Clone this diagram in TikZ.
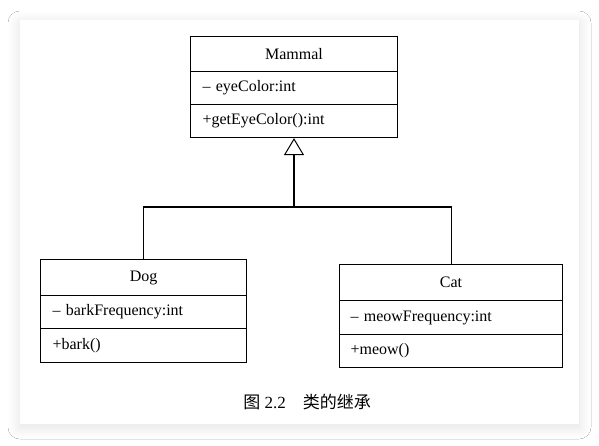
\documentclass[tikz,border=0pt]{standalone}
\usepackage{fontspec}
\setmainfont{Liberation Serif}
\newfontfamily\cjk{Noto Sans CJK SC}
\usetikzlibrary{arrows.meta,shadows.blur}
\begin{document}
\begin{tikzpicture}[x=1pt,y=-1pt,
  umltext/.style={font=\fontsize{16}{19}\selectfont},
  comp/.style={draw, line width=1.1pt, anchor=north west, inner xsep=#1, inner ysep=0pt, umltext},
  comp/.default=12pt,
  link/.style={line width=1.1pt},
  inherit/.style={link, -{Triangle[open, length=17pt, width=20pt, line width=1pt]}}
]
\useasboundingbox (0,0) rectangle (599,445);
\fill[white] (0,0) rectangle (599,445);
\fill[white, blur shadow={shadow blur steps=14, shadow xshift=0pt, shadow yshift=-3pt, shadow blur radius=12pt, shadow opacity=12}] (20,20) rectangle (579,424);

% Mammal
\node[comp, minimum height=35pt, text width=183pt, align=center] (mammaltitle) at (190,36) {Mammal};
\node[comp, minimum height=33pt, text width=183pt, align=left] (mammalattr) at (190,71) {\textendash{} eyeColor:int};
\node[comp, minimum height=33pt, text width=183pt, align=left] (mammalmeth) at (190,104) {+getEyeColor():int};

% Dog
\node[comp, minimum height=36pt, text width=182pt, align=center] (dogtitle) at (40,259) {Dog};
\node[comp, minimum height=33pt, text width=182pt, align=left] (dogattr) at (40,295) {\textendash{} barkFrequency:int};
\node[comp, minimum height=34pt, text width=182pt, align=left] (dogmeth) at (40,328) {+bark()};

% Cat
\node[comp=11pt, minimum height=36pt, text width=201pt, align=center] (cattitle) at (339,264) {Cat};
\node[comp=11pt, minimum height=34pt, text width=201pt, align=left] (catattr) at (339,300) {\textendash{} meowFrequency:int};
\node[comp=11pt, minimum height=33pt, text width=201pt, align=left] (catmeth) at (339,334) {+meow()};

% inheritance
\coordinate (jn) at (294,207);
\draw[link] (dogtitle.north) |- (jn) -| (cattitle.north);
\draw[inherit] (jn) -- (mammalmeth.south -| jn);

% caption
\node[font=\fontsize{17}{20}\selectfont] (caption) at (307,402) {{\cjk 图} 2.2\hspace{1em}{\cjk 类的继承}};
\end{tikzpicture}
\end{document}
